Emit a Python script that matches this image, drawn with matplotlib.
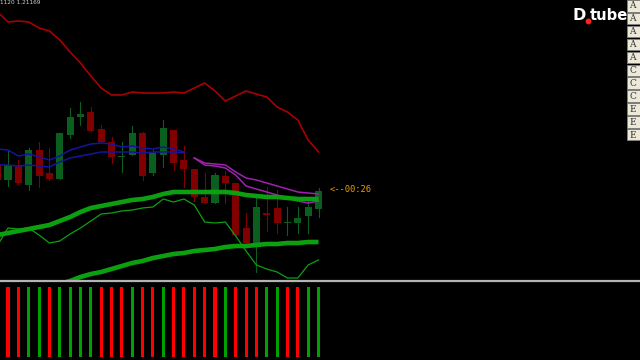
import numpy as np
import matplotlib
matplotlib.use('Agg')
import matplotlib.pyplot as plt
from matplotlib.patches import Rectangle

# candle positions (bar index), -1 is the half hidden bar on the left edge
bars = np.arange(-1, 31)

# candles as chart levels (screen units, larger = lower price)
opens  = [165, 180, 166, 185, 150, 173, 179, 135, 117, 112, 129, 142, 157, 155, 133, 173, 155, 130, 160, 169, 197, 203, 176, 183, 228, 243, 213, 208, 223, 223, 216, 209]
closes = [180, 165, 183, 150, 176, 179, 133, 117, 114, 131, 142, 157, 156, 133, 176, 153, 128, 163, 169, 197, 203, 175, 183, 235, 243, 207, 215, 223, 222, 218, 207, 191]
highs  = [160, 150, 160, 148, 142, 148, 133, 108, 102, 107, 125, 137, 142, 126, 132, 150, 120, 130, 146, 169, 173, 173, 171, 183, 213, 196, 187, 190, 207, 207, 200, 188]
lows   = [185, 186, 184, 190, 187, 180, 179, 138, 125, 131, 142, 163, 172, 155, 180, 175, 167, 170, 187, 201, 203, 203, 203, 235, 243, 272, 231, 233, 235, 233, 233, 217]

# indicator lines, one value per bar from -1 to 30
upper_red = [12, 22, 21, 22, 28, 31, 40, 52, 63, 76, 88, 95, 95, 92, 93, 93, 93, 92, 93, 88, 83, 91, 101, 96, 91, 94, 97, 107, 112, 120, 140, 152]
blue_hi = [149, 150, 156, 154, 157, 160, 156, 150, 147, 144, 143, 144, 147, 146, 148, 149, 147, 149, 152]
blue_lo = [165, 165, 166, 165, 166, 167, 162, 158, 156, 154, 152, 152, 152, 152, 153, 152, 152, 152, 153]
mag_hi = [158, 163, 164, 165, 172, 178, 180, 183, 186, 189, 192, 193, 194]
mag_lo = [158, 165, 166, 168, 175, 186, 189, 192, 195, 198, 201, 203, 201]
green_mid = [235, 233, 231, 229, 227, 225, 221, 217, 212, 208, 206, 204, 202, 200, 199, 197, 194, 192, 192, 192, 192, 192, 192, 193, 195, 196, 197, 197, 198, 199, 199, 199]
green_thin = [245, 228, 229, 228, 235, 243, 241, 234, 228, 221, 214, 213, 211, 210, 208, 207, 199, 202, 199, 205, 222, 223, 222, 236, 251, 265, 269, 272, 278, 278, 265, 260]
green_low = [284, 281, 277, 274, 272, 269, 266, 263, 261, 258, 256, 254, 253, 251, 250, 249, 247, 246, 246, 245, 244, 244, 243, 243, 242, 242]

# lower window signal (1 = buy / green, 0 = sell / red)
signal = [0, 0, 1, 1, 0, 1, 1, 1, 1, 0, 0, 0, 1, 0, 0, 1, 0, 0, 0, 0, 0, 1, 0, 0, 0, 1, 1, 0, 0, 1, 1]

buttons = ['A', 'A', 'A', 'A', 'A', 'C', 'C', 'C', 'E', 'E', 'E']

fig = plt.figure(figsize=(6.4, 3.6), dpi=100, facecolor='black')
ax = fig.add_axes([0, 79 / 360, 1, 281 / 360], facecolor='black')
sub = fig.add_axes([0, 0, 1, 77 / 360], facecolor='black')

x0 = -8 / 10.35
x1 = 632 / 10.35
for a in (ax, sub):
    a.set_xlim(x0, x1)
    a.set_xticks([])
    a.set_yticks([])
    for s in a.spines.values():
        s.set_visible(False)
ax.set_ylim(281, 0)

# candles
for b, o, c, h, l in zip(bars, opens, closes, highs, lows):
    col = '#0a5f1e' if c <= o else '#800000'
    ax.plot([b, b], [h, l], color=col, lw=0.8, zorder=2)
    top = min(o, c)
    hgt = max(abs(o - c), 1)
    ax.add_patch(Rectangle((b - 0.34, top), 0.68, hgt, color=col, lw=0, zorder=3))

ax.plot(bars, upper_red, color='#a80000', lw=1.2, zorder=4)
ax.plot(bars[:len(blue_hi)], blue_hi, color='#1414a0', lw=1.1, zorder=4)
ax.plot(bars[:len(blue_lo)], blue_lo, color='#1414a0', lw=1.1, zorder=4)
ax.plot(bars[-len(mag_hi):], mag_hi, color='#a020b0', lw=1.1, zorder=4)
ax.plot(bars[-len(mag_lo):], mag_lo, color='#a020b0', lw=1.1, zorder=4)
ax.plot(bars, green_mid, color='#0ca010', lw=3.3, zorder=5, solid_capstyle='butt')
ax.plot(bars, green_thin, color='#0ca010', lw=0.9, zorder=5)
ax.plot(bars[-len(green_low):], green_low, color='#0ca010', lw=3.3, zorder=5, solid_capstyle='butt')

ax.text(31.1, 190, '<--00:26', color='#e8a000', fontsize=6.3,
        family='DejaVu Sans Mono', ha='left', va='center')

# lower window histogram
cols = ['#00a000' if s else '#ff0000' for s in signal]
sub.bar(np.arange(len(signal)), np.ones(len(signal)), width=0.29, color=cols, bottom=0)
sub.set_ylim(-3 / 70, 1 + 4 / 70)

# window separator
fig.add_artist(plt.Line2D([0, 1], [79.5 / 360, 79.5 / 360], color='#b4b4b4', lw=1.6))

fig.text(0.0, 0.999, '1120 1.21169', color='#d0d0d0', fontsize=4.2, ha='left', va='top')

# right side buttons
for k, lab in enumerate(buttons):
    yt = (360 - (k * 12.9)) / 360
    fig.add_artist(Rectangle((627 / 640, yt - 11.5 / 360), 16 / 640, 11.5 / 360,
                             facecolor='#ece9d8', edgecolor='#808080', lw=0.6,
                             transform=fig.transFigure))
    fig.text(629 / 640, yt - 6 / 360, lab, color='#303030', fontsize=6.5,
             family='DejaVu Serif', ha='left', va='center')

# logo
fig.text(573 / 640, 1 - 16 / 360, 'D', color='white', fontsize=11.5, weight='bold', ha='left', va='center')
fig.add_artist(plt.Line2D([588 / 640], [1 - 21 / 360], marker='o', markersize=3.2,
                          color='#ff2020', transform=fig.transFigure))
fig.text(590 / 640, 1 - 16 / 360, 'tube', color='white', fontsize=10.6, weight='bold',
         ha='left', va='center', zorder=10)

fig.savefig('out.png', dpi=100, facecolor='black')
